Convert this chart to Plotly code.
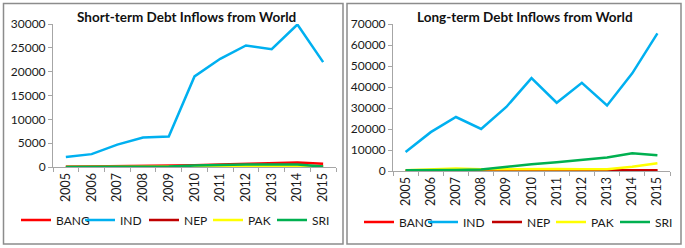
import plotly.graph_objects as go

years = [str(y) for y in range(2005, 2016)]
series = ["BANG", "IND", "NEP", "PAK", "SRI"]
colors = {"BANG": "#FF0000", "IND": "#00B0F0", "NEP": "#C00000", "PAK": "#FFFF00", "SRI": "#00B050"}

short_bang = [50, 100, 200, 250, 200, 350, 500, 700, 750, 950, 700]
short_ind = [2100, 2700, 4700, 6200, 6400, 19000, 22700, 25500, 24700, 29900, 22000]
short_nep = [0, 20, 30, 40, 30, 50, 60, 80, 80, 100, 80]
short_pak = [0, 0, 0, 0, 0, 50, 100, 150, 150, 200, 50]
short_sri = [0, 30, 80, 150, 80, 300, 450, 550, 550, 500, 100]

long_bang = [100, 100, 150, 150, 200, 200, 250, 250, 300, 400, 400]
long_ind = [9000, 18500, 25700, 20000, 30500, 44200, 32500, 42000, 31200, 46500, 65500]
long_nep = [0, 0, 50, 50, 50, 50, 100, 100, 100, 150, 200]
long_pak = [300, 800, 1200, 800, 900, 1000, 1000, 800, 800, 2000, 3700]
long_sri = [300, 300, 500, 700, 2000, 3200, 4200, 5300, 6400, 8500, 7500]

short = {"BANG": short_bang, "IND": short_ind, "NEP": short_nep, "PAK": short_pak, "SRI": short_sri}
long_ = {"BANG": long_bang, "IND": long_ind, "NEP": long_nep, "PAK": long_pak, "SRI": long_sri}

W, H = 685, 248
def px(x):
    return x / W
def py(y):
    return 1 - y / H

fig = go.Figure()
for s in series:
    fig.add_trace(go.Scatter(x=years, y=short[s], name=s, mode="lines",
                             line=dict(color=colors[s], width=2.5),
                             xaxis="x", yaxis="y", legend="legend"))
for s in series:
    fig.add_trace(go.Scatter(x=years, y=long_[s], name=s, mode="lines",
                             line=dict(color=colors[s], width=2.5),
                             xaxis="x2", yaxis="y2", legend="legend2"))

font = dict(family="Lato, Noto Sans, sans-serif", size=12, color="#1a1a1a")
xcommon = dict(type="category", range=[-0.5, 10.5], tickangle=-90, showline=True,
               linecolor="#A6A6A6", linewidth=1, ticks="outside", tickson="boundaries",
               ticklen=4, tickcolor="#A6A6A6", showgrid=False, zeroline=False,
               tickfont=dict(size=12.5))
ycommon = dict(showline=True, linecolor="#A6A6A6", linewidth=1, ticks="outside",
               ticklen=4, tickcolor="#A6A6A6", showgrid=False, zeroline=False,
               tickformat="d", tickfont=dict(size=12))

legcommon = dict(orientation="h", xanchor="left", yanchor="middle",
                 font=dict(size=12), itemwidth=30, entrywidth=19, entrywidthmode="pixels",
                 bgcolor="rgba(0,0,0,0)", tracegroupgap=0)

fig.update_layout(
    width=W, height=H, margin=dict(l=0, r=0, t=0, b=0, autoexpand=False),
    paper_bgcolor="white", plot_bgcolor="white", font=font,
    xaxis=dict(domain=[px(53), px(336)], anchor="y", **xcommon),
    yaxis=dict(domain=[py(167), py(24)], anchor="x", range=[0, 30000], dtick=5000, **ycommon),
    xaxis2=dict(domain=[px(393), px(670)], anchor="y2", **xcommon),
    yaxis2=dict(domain=[py(171), py(24)], anchor="x2", range=[0, 70000], dtick=10000, **ycommon),
    legend=dict(x=px(16), y=py(220), **legcommon),
    legend2=dict(x=px(359), y=py(222), **legcommon),
    annotations=[
        dict(text="<b>Short-term Debt Inflows from World</b>", x=px(187), y=py(17),
             xanchor="center", yanchor="middle",
             xref="paper", yref="paper", showarrow=False, font=dict(size=13.5, color="#111")),
        dict(text="<b>Long-term Debt Inflows from World</b>", x=px(525), y=py(17),
             xanchor="center", yanchor="middle",
             xref="paper", yref="paper", showarrow=False, font=dict(size=13.5, color="#111")),
    ],
    shapes=[
        dict(type="rect", xref="paper", yref="paper", x0=px(3.5), x1=px(343), y0=py(244), y1=py(3.5),
             line=dict(color="#8C8C8C", width=1.5)),
        dict(type="rect", xref="paper", yref="paper", x0=px(347), x1=px(681), y0=py(244), y1=py(3.5),
             line=dict(color="#8C8C8C", width=1.5)),
    ],
)

fig.write_html("out.html", config={"displayModeBar": False},
               post_script="document.body.style.margin='0px';")
